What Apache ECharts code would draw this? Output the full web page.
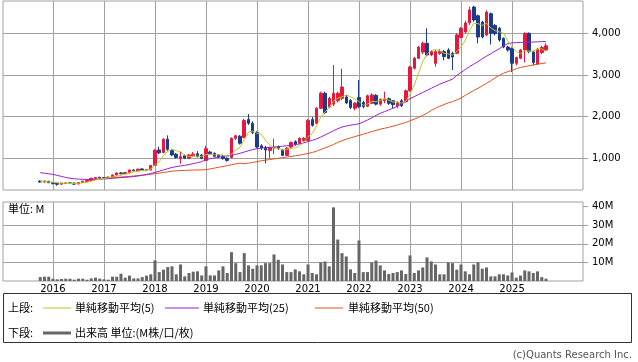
<!DOCTYPE html>
<html><head><meta charset="utf-8">
<script src="https://cdn.jsdelivr.net/npm/echarts@6/dist/echarts.min.js"></script>
<style>html,body{margin:0;padding:0;background:#fff}#c{width:638px;height:362px}</style>
</head><body><div id="c"></div>
<script>
// first month of data (Oct 2015), monthly candles
const firstMonth = [2015, 10];
const opens = [455,430,450,420,400,380,395,410,405,385,420,445,470,515,545,540,530,550,600,650,630,650,720,700,745,715,720,830,1200,1140,1460,1190,1100,1000,1060,1000,1060,1110,1080,950,1150,1120,1080,1050,1000,1020,1480,1530,1500,1930,1840,1620,1300,1260,1190,1250,1280,1190,1070,1270,1400,1360,1430,1430,1930,1840,2200,2560,2230,2300,2380,2440,2470,2390,2200,2460,2340,2250,2320,2510,2300,2380,2430,2380,2260,2380,2360,2620,3160,3400,3550,3760,3480,3280,3520,3560,3600,3520,3520,3900,4030,4250,4630,4420,4270,3960,4470,4190,4120,3880,3670,3640,3280,3400,3600,4000,3550,3260,3540,3600];
const closes = [430,455,415,395,375,400,410,400,380,420,450,470,520,540,530,530,550,600,650,630,660,720,700,740,715,730,830,1190,1130,1460,1215,1080,1020,1040,1000,1080,1100,1040,1000,1230,1110,1050,1030,990,950,1480,1540,1360,1910,1840,1620,1270,1250,1200,1250,1260,1240,1070,1240,1380,1330,1480,1480,1910,1790,2200,2560,2100,2440,2560,2560,2710,2330,2220,2320,2240,2240,2500,2520,2300,2410,2420,2320,2290,2330,2260,2620,3190,3400,3670,3760,3480,3560,3560,3560,3440,3400,3430,3960,4120,4250,4560,4320,3910,3910,4510,4000,3990,3840,3670,3600,3280,3420,3600,4000,3560,3300,3620,3660,3700];
const lows = [415,420,405,370,340,370,385,390,360,375,410,435,460,500,520,515,520,540,590,615,620,640,690,690,700,700,710,820,1100,1120,1180,1050,990,870,980,980,1040,1020,980,930,1080,1030,1000,970,920,1000,1440,1330,1480,1800,1580,1240,1200,880,1000,1100,1200,1050,1050,1250,1300,1340,1400,1420,1760,1820,2180,2060,2200,2250,2340,2400,2300,2180,2150,2200,2200,2230,2300,2270,2260,2320,2280,2200,2200,2230,2340,2600,3130,3380,3500,3450,3450,3200,3480,3350,3380,3120,3500,3880,4000,4200,4280,3760,3880,3930,3730,3950,3800,3640,3560,3070,3230,3380,3300,3520,3230,3240,3500,3580];
const highs = [470,465,460,430,410,410,420,420,415,430,460,480,530,550,555,550,560,610,660,665,670,730,735,750,760,745,840,1220,1280,1480,1550,1230,1130,1150,1090,1100,1150,1170,1100,1300,1180,1140,1100,1080,1030,1500,1560,1560,1950,2060,1890,1650,1340,1300,1280,1470,1310,1220,1270,1400,1430,1500,1510,1940,1990,2230,2600,2600,2480,3240,2600,3150,2520,2420,2350,2880,2380,2530,2560,2540,2440,2600,2460,2400,2370,2420,2650,3220,3430,3700,3800,4120,3600,3600,3620,3600,3640,3560,4000,4150,4300,4640,4660,4450,4300,4550,4500,4220,4150,3900,3700,3660,3440,3620,4020,4020,3580,3650,3700,3760];
// volume, millions of shares
const volumes = [2.1,2.3,2.3,1.25,0.9,1.1,1.25,1.25,0.7,1.25,1.25,0.7,1.4,1.8,1.25,0.9,0.7,2.3,2.3,3.9,1.8,2.9,1.4,1.4,2.1,2.9,3.6,11.1,4.8,6.1,7.5,7.9,3.6,8.9,2.5,4.3,5.0,5.2,3.0,7.9,3.0,3.0,5.7,7.9,4.3,15.5,9.6,4.8,15.0,8.4,6.6,8.4,8.4,9.6,9.6,14.3,11.4,8.9,4.8,4.8,6.25,5.2,3.6,8.9,4.3,3.6,10.0,10.5,7.9,39.6,22.3,15.0,13.2,6.25,4.3,21.8,4.8,4.8,10.0,11.0,8.4,5.7,3.75,4.3,4.8,5.7,3.75,13.75,4.3,5.7,7.3,12.7,10.5,8.9,3.6,3.6,10.0,9.6,6.1,8.9,5.2,3.6,8.9,10.0,6.6,7.3,2.5,2.5,3.6,3.6,3.0,4.6,1.8,2.9,5.7,5.2,4.3,5.2,2.1,1.25];
const ma5 = [440,440,435,425,414,408,399,396,393,402,412,424,448,480,502,518,534,550,572,592,618,652,672,690,707,721,743,841,919,1068,1165,1215,1181,1163,1071,1044,1048,1052,1044,1090,1096,1086,1082,1082,1026,1100,1198,1264,1448,1626,1654,1600,1578,1436,1318,1246,1240,1204,1212,1238,1252,1300,1382,1516,1598,1772,1988,2112,2218,2372,2444,2474,2520,2476,2428,2364,2270,2304,2364,2360,2394,2430,2394,2348,2354,2324,2364,2538,2760,3036,3328,3500,3586,3606,3584,3520,3504,3478,3558,3670,3832,4064,4242,4232,4190,4242,4130,4064,4034,4002,3820,3676,3562,3514,3580,3572,3576,3616,3628,3568];
const ma25 = [656,642,628,615,590,565,540,520,510,500,495,492,492,494,498,505,512,520,528,536,544,552,562,575,592,612,635,662,690,720,752,780,800,815,830,850,872,895,920,968,990,1010,1030,1045,1058,1072,1095,1120,1150,1180,1210,1230,1245,1255,1262,1270,1280,1290,1300,1310,1325,1345,1370,1400,1430,1465,1510,1560,1610,1660,1710,1750,1775,1795,1810,1830,1870,1920,1970,2030,2080,2120,2160,2200,2250,2300,2360,2430,2480,2530,2580,2630,2680,2730,2780,2820,2860,2900,2990,3060,3130,3200,3260,3320,3390,3450,3510,3570,3630,3700,3750,3770,3775,3780,3785,3790,3790,3795,3800,3800];
const ma50 = [null,null,null,null,null,null,null,null,null,null,null,null,480,495,510,520,528,535,542,550,558,566,575,585,595,605,615,630,645,660,675,690,700,705,710,715,718,720,722,728,745,765,785,805,825,845,865,885,870,885,900,920,940,955,970,985,1000,1015,1030,1045,1060,1075,1095,1115,1140,1170,1210,1250,1290,1330,1380,1420,1460,1490,1520,1550,1580,1610,1640,1670,1700,1720,1745,1770,1800,1830,1860,1900,1940,1980,2030,2080,2150,2200,2250,2290,2330,2360,2400,2450,2510,2570,2630,2680,2740,2800,2860,2930,2990,3040,3080,3110,3150,3180,3200,3220,3240,3260,3275,3290];
const yearTicks = [2016,2017,2018,2019,2020,2021,2022,2023,2024,2025];
const priceTicks = [1000,2000,3000,4000];
const volumeTicks = [10,20,30,40];
const volumeGrid = [10,20,30];

// x position = months since Jan 2015
const BASE_YEAR = 2015;
const monthPos = opens.map((_, i) => (firstMonth[0] - BASE_YEAR) * 12 + firstMonth[1] - 1 + i);
const yearPos = yearTicks.map(y => (y - BASE_YEAR) * 12);

const C_UP = '#e8173f', C_DN = '#1c3b8d';
const C5 = '#b8c81e', C25 = '#9a1fd0', C50 = '#e0521e';
const GRID = '#a0a0a0';
const FONT = 'DejaVu Sans';
const xMin = 0.24, xMax = 136.7;

const chart = echarts.init(document.getElementById('c'), null, {renderer: 'canvas'});
function xAxisDef(gridIndex, showLabel) {
  return {
    gridIndex, type: 'value', min: xMin, max: xMax,
    axisLine: {show: false},
    axisTick: {show: false, customValues: yearPos},
    axisLabel: showLabel ? {show: true, customValues: yearPos, margin: 3,
      fontFamily: FONT, fontSize: 10, color: '#000',
      formatter: v => String(BASE_YEAR + Math.round(v / 12))} : {show: false},
    splitLine: {show: true, lineStyle: {color: GRID, width: 1}}
  };
}
chart.setOption({
  animation: false,
  grid: [
    {left: 3, top: 1, width: 580, height: 189, show: true, borderColor: GRID, borderWidth: 1},
    {left: 3, top: 202, width: 580, height: 79, show: true, borderColor: GRID, borderWidth: 1}
  ],
  xAxis: [xAxisDef(0, false), xAxisDef(1, true)],
  yAxis: [
    {gridIndex: 0, type: 'value', position: 'right', min: 239, max: 4775,
     axisLine: {show: false},
     axisTick: {show: true, length: 5, lineStyle: {color: GRID}, customValues: priceTicks},
     axisLabel: {customValues: priceTicks, margin: 9, fontFamily: FONT, fontSize: 10, color: '#000',
       formatter: v => v.toLocaleString('en-US')},
     splitLine: {show: true, lineStyle: {color: GRID, width: 1}}},
    {gridIndex: 1, type: 'value', position: 'right', min: 0, max: 42.5,
     axisLine: {show: false},
     axisTick: {show: true, length: 5, lineStyle: {color: GRID}, customValues: volumeTicks},
     axisLabel: {customValues: volumeTicks, margin: 9, fontFamily: FONT, fontSize: 10, color: '#000',
       formatter: v => v + 'M'},
     splitLine: {show: false}},
    {gridIndex: 1, type: 'value', position: 'right', min: 0, max: 42.5,
     axisLine: {show: false},
     axisTick: {show: false, customValues: volumeGrid},
     axisLabel: {show: false},
     splitLine: {show: true, lineStyle: {color: GRID, width: 1}}}
  ],
  series: [
    {type: 'candlestick', xAxisIndex: 0, yAxisIndex: 0, barWidth: 3,
     data: monthPos.map((x, i) => [x, opens[i], closes[i], lows[i], highs[i]]),
     itemStyle: {color: C_UP, color0: C_DN, borderColor: C_UP, borderColor0: C_DN, borderWidth: 1}},
    {type: 'line', xAxisIndex: 0, yAxisIndex: 0, symbol: 'none', data: monthPos.map((x, i) => [x, ma50[i]]),
     lineStyle: {color: C50, width: 1}},
    {type: 'line', xAxisIndex: 0, yAxisIndex: 0, symbol: 'none', data: monthPos.map((x, i) => [x, ma25[i]]),
     lineStyle: {color: C25, width: 1}},
    {type: 'line', xAxisIndex: 0, yAxisIndex: 0, symbol: 'none', data: monthPos.map((x, i) => [x, ma5[i]]),
     lineStyle: {color: C5, width: 1}},
    {type: 'bar', xAxisIndex: 1, yAxisIndex: 1, barWidth: 3, data: monthPos.map((x, i) => [x, volumes[i]]),
     itemStyle: {color: '#666666'}}
  ],
  graphic: [
    {type: 'text', x: 8, y: 209, style: {text: '単位: M', fontSize: 11, fontFamily: 'Noto Sans CJK JP', fill: '#000', verticalAlign: 'middle'}},
    {type: 'rect', shape: {x: 3.5, y: 293.5, width: 628, height: 49}, style: {fill: 'none', stroke: '#333', lineWidth: 1}},
    {type: 'text', x: 8, y: 308, style: {text: '上段:', fontSize: 11, fontFamily: 'Noto Sans CJK JP', fill: '#000', verticalAlign: 'middle'}},
    {type: 'line', shape: {x1: 43, y1: 308, x2: 71, y2: 308}, style: {stroke: C5, lineWidth: 1}},
    {type: 'text', x: 75, y: 308, style: {text: '単純移動平均(5)', fontSize: 11, fontFamily: 'Noto Sans CJK JP', fill: '#000', verticalAlign: 'middle'}},
    {type: 'line', shape: {x1: 165, y1: 308, x2: 199, y2: 308}, style: {stroke: C25, lineWidth: 1}},
    {type: 'text', x: 203, y: 308, style: {text: '単純移動平均(25)', fontSize: 11, fontFamily: 'Noto Sans CJK JP', fill: '#000', verticalAlign: 'middle'}},
    {type: 'line', shape: {x1: 315, y1: 308, x2: 343, y2: 308}, style: {stroke: C50, lineWidth: 1}},
    {type: 'text', x: 348, y: 308, style: {text: '単純移動平均(50)', fontSize: 11, fontFamily: 'Noto Sans CJK JP', fill: '#000', verticalAlign: 'middle'}},
    {type: 'text', x: 8, y: 333, style: {text: '下段:', fontSize: 11, fontFamily: 'Noto Sans CJK JP', fill: '#000', verticalAlign: 'middle'}},
    {type: 'line', shape: {x1: 43, y1: 333, x2: 71, y2: 333}, style: {stroke: '#666666', lineWidth: 3}},
    {type: 'text', x: 75, y: 333, style: {text: '出来高 単位:(M株/口/枚)', fontSize: 11, fontFamily: 'Noto Sans CJK JP', fill: '#000', verticalAlign: 'middle'}},
    {type: 'text', x: 632, y: 355, style: {text: '(c)Quants Research Inc.', fontSize: 10, fontFamily: FONT, fill: '#555', align: 'right', verticalAlign: 'middle'}}
  ]
});
</script></body></html>
